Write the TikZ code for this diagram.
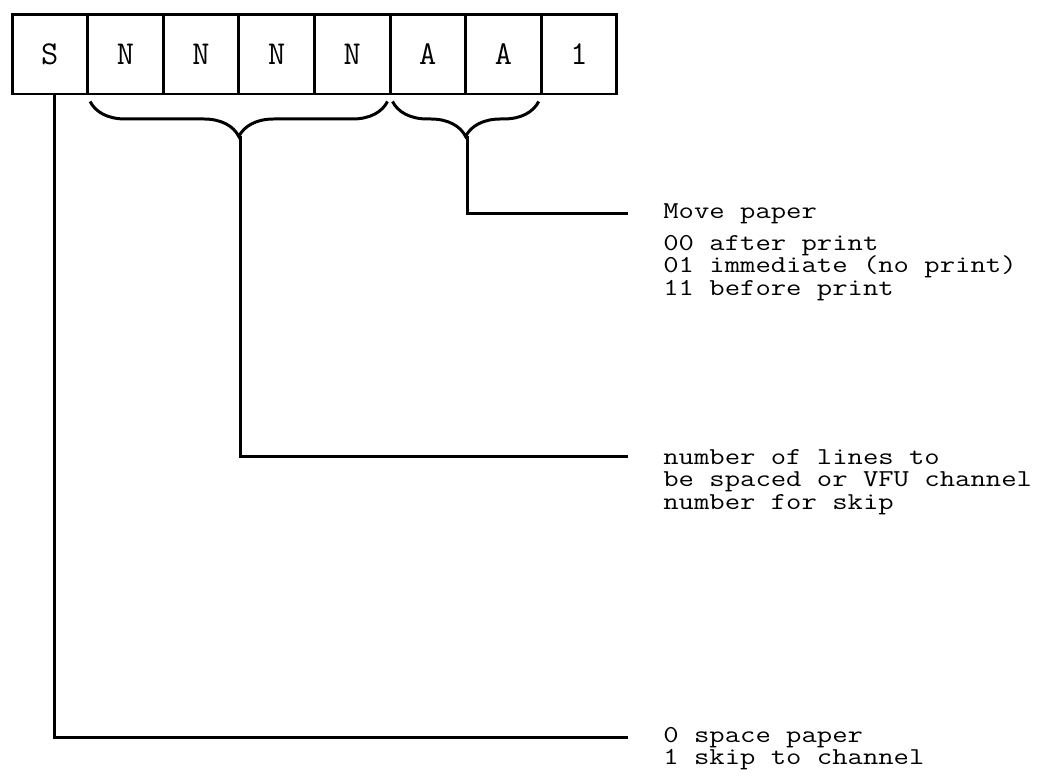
\documentclass[tikz,border=0pt]{standalone}
\usepackage{tikz}
\usetikzlibrary{positioning,decorations.pathreplacing}
\newcommand{\tw}[1]{\scalebox{1.23}[1]{#1}}

\begin{document}
\begin{tikzpicture}[x=0.02cm,y=0.02cm,
  cell/.style={draw,line width=1.7pt,minimum width=1.512cm,minimum height=1.6cm,
    inner sep=0pt,font=\ttfamily\fontsize{19}{19}\selectfont},
  lbl/.style={anchor=base west,inner sep=0pt,
    font=\ttfamily\fontsize{13.8}{13.8}\selectfont},
  wire/.style={line width=1.7pt},
  brc/.style={line width=1.7pt,decorate,decoration={brace,mirror,amplitude=0.7cm}}]
\useasboundingbox (0,0) rectangle (1053,-775);
% control byte: S NNNN AA 1
\foreach \c [count=\i] in {S,N,N,N,N,A,A,1}
  \node[cell] (c\i) at ({12+75.6*(\i-0.5)},-54) {\c};
% braces under NNNN and AA
\draw[brc] ([shift={(0.08cm,-0.12cm)}]c2.south west) -- ([shift={(-0.08cm,-0.12cm)}]c5.south east);
\draw[brc] ([shift={(0.08cm,-0.12cm)}]c6.south west) -- ([shift={(-0.08cm,-0.12cm)}]c7.south east);
\coordinate (ntip) at ([yshift=-0.82cm]c3.south east);
\coordinate (atip) at ([yshift=-0.82cm]c6.south east);
\coordinate (stop) at ([xshift=0.1cm]c1.south);
% descriptions
\node[lbl] (move) at (663,-218) {\tw{Move paper}};
\node[lbl] (mv1) at (663,-250) {\tw{00 after print}};
\node[lbl] (mv2) at (663,-272.5) {\tw{01 immediate (no print)}};
\node[lbl] (mv3) at (663,-295) {\tw{11 before print}};
\node[lbl] (nl1) at (663,-464) {\tw{number of lines to}};
\node[lbl] (nl2) at (663,-486.5) {\tw{be spaced or VFU channel}};
\node[lbl] (nl3) at (663,-509) {\tw{number for skip}};
\node[lbl] (sp1) at (663,-742) {\tw{0 space paper}};
\node[lbl] (sp2) at (663,-764.5) {\tw{1 skip to channel}};
% leaders
\draw[wire] (atip) |- ([xshift=-0.7cm]move.west);
\draw[wire] (ntip) |- ([xshift=-0.7cm]nl1.west);
\draw[wire] (stop) |- ([xshift=-0.7cm]sp1.west);
\end{tikzpicture}
\end{document}
